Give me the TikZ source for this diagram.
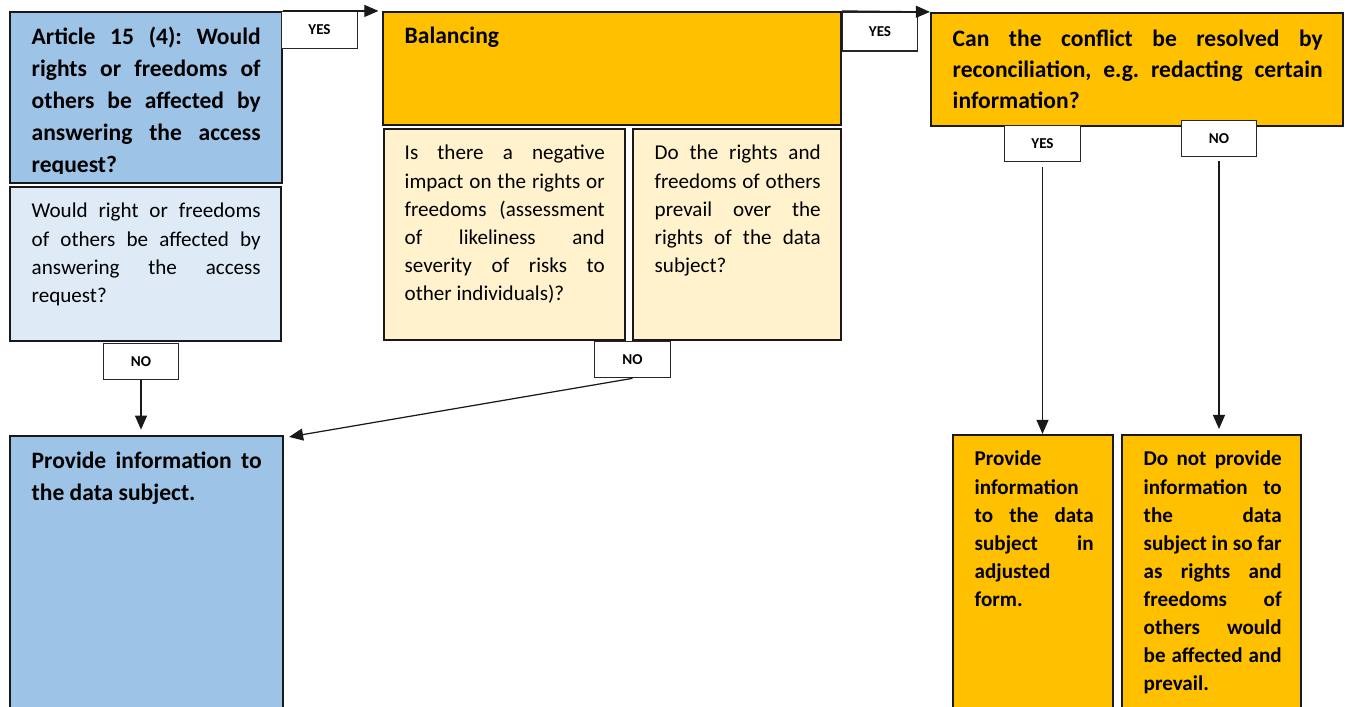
\documentclass[tikz,border=0pt]{standalone}
\usepackage{fontspec}
\setmainfont{Carlito}
\usetikzlibrary{arrows.meta,fit}
\hyphenpenalty=10000
\tolerance=10000
\emergencystretch=5pt
\frenchspacing

\definecolor{artblue}{HTML}{9DC3E6}
\definecolor{paleblue}{HTML}{DEEBF7}
\definecolor{balorange}{HTML}{FFC000}
\definecolor{paleyellow}{HTML}{FFF2CC}

\tikzset{
  flow/.style={
    box/.style={draw=black!90,line width=0.6pt,inner sep=0pt},
    tag/.style={draw=black!85,line width=0.35pt,fill=white,inner sep=0pt,
        minimum width=7.55mm,minimum height=3.65mm,
        font=\bfseries\fontsize{4.3pt}{5pt}\selectfont},
    flowarrow/.style={draw=black!90,line width=0.35pt,
        -{Triangle[length=4pt,width=3.4pt]}},
  }
}

\begin{document}
\begin{tikzpicture}[flow, x=0.1mm, y=-0.1mm]
        \tikzstyle{headtext}=[anchor=base west,inner sep=0pt,font=\bfseries\fontsize{6.7pt}{9.1pt}\selectfont]
        \tikzstyle{smalltext}=[anchor=base west,inner sep=0pt,font=\fontsize{6pt}{7.97pt}\selectfont]
        \tikzstyle{endtext}=[anchor=base west,inner sep=0pt,font=\bfseries\fontsize{6pt}{7.97pt}\selectfont]

        \clip (0,0) rectangle (1349,707);

        % left column
        \node[box,fill=artblue,fit={(10,12) (282,183)}] (Q_1) {};
        \begin{scope}
            \clip (10,12) rectangle (282,174);
            \node[headtext] (Q_1t) at (31,45) {\parbox[t]{22.9mm}{Article 15 (4): Would\linebreak rights or freedoms of\linebreak others be affected by\linebreak answering the access\linebreak request?}};
        \end{scope}
        \node[box,fill=paleblue,fit={(10,187) (281,341)}] (Q_2) {};
        \node[smalltext] (Q_2t) at (31,218) {\parbox[t]{22.9mm}{Would right or freedoms\linebreak of others be affected by\linebreak answering the access\linebreak request?}};
        \node[box,fill=artblue,fit={(10,436) (283,712)}] (R_1) {};
        \node[headtext] (R_1t) at (31,469) {\parbox[t]{23mm}{Provide information to\linebreak the data subject.}};

        % balancing
        \node[box,fill=balorange,fit={(383,12) (841,125)}] (B_1) {};
        \node[headtext] (B_1t) at (404,44) {Balancing};
        \node[box,fill=paleyellow,fit={(384,129) (625,340)}] (B_2) {};
        \node[smalltext] (B_2t) at (404,160) {\parbox[t]{20mm}{Is there a negative\linebreak impact on the rights or\linebreak freedoms (assessment\linebreak of likeliness and\linebreak severity of risks to\linebreak other individuals)?}};
        \node[box,fill=paleyellow,fit={(633,129) (841,340)}] (B_3) {};
        \node[smalltext] (B_3t) at (654,160) {\parbox[t]{16.6mm}{Do the rights and\linebreak freedoms of others\linebreak prevail over the\linebreak rights of the data\linebreak subject?}};

        % reconciliation
        \node[box,fill=balorange,fit={(931,13) (1343,126)}] (C_1) {};
        \node[headtext,font=\bfseries\fontsize{6.7pt}{8.8pt}\selectfont] (C_1t) at (952,47) {\parbox[t]{37mm}{Can the conflict be resolved by\linebreak reconciliation, e.g. redacting certain\linebreak information?}};
        \node[box,fill=balorange,fit={(953,435) (1113,712)}] (R_2) {};
        \node[endtext] (R_2t) at (974,466) {\parbox[t]{11.9mm}{Provide\linebreak information\linebreak to the data\linebreak subject in\linebreak adjusted\linebreak form.}};
        \node[box,fill=balorange,fit={(1122,435) (1301,712)}] (R_3) {};
        \node[endtext] (R_3t) at (1143,466) {\parbox[t]{13.8mm}{Do not provide\linebreak information to\linebreak the data\linebreak subject in so far\linebreak as rights and\linebreak freedoms of\linebreak others would\linebreak be affected and\linebreak prevail.}};

        % answer tags
        \node[tag] (L_1) at (319.5,30) {YES};
        \node[tag] (L_2) at (141,361.5) {NO};
        \node[tag] (L_3) at (632.5,359.5) {NO};
        \node[tag,minimum height=3.9mm] (L_4) at (880,31.5) {YES};
        \node[tag] (L_5) at (1042.5,143.5) {YES};
        \node[tag] (L_6) at (1219,138.5) {NO};

        \draw[flowarrow,shorten >=1pt] (Q_1.north east) -- (B_1.north west);
        \draw[flowarrow] (B_1.north east) -- (C_1.north west);
        \draw[flowarrow,shorten >=1.5pt] (L_2.south) -- (L_2.south |- R_1.north);
        \draw[flowarrow] (L_3.south) -- ([xshift=0.5mm,yshift=-0.2mm]R_1.north east);
        \draw[flowarrow,shorten <=1.4pt] (L_5.south) -- (L_5.south |- R_2.north);
        \draw[flowarrow,shorten <=1pt,shorten >=1.4pt] (L_6.south) -- (L_6.south |- R_3.north);
    \end{tikzpicture}
\end{document}
